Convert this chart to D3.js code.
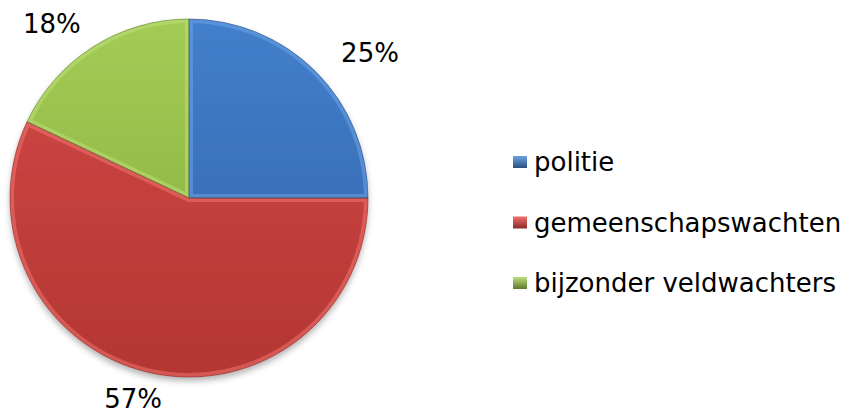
<!DOCTYPE html>
<html>
<head>
<meta charset="utf-8">
<script src="https://cdn.jsdelivr.net/npm/d3@7"></script>
<style>
  body { margin: 0; background: #fff; }
  svg { display: block; font-family: "DejaVu Sans", Verdana, sans-serif; }
</style>
</head>
<body>
<svg width="846" height="414"></svg>
<script>
const categories = ["politie", "gemeenschapswachten", "bijzonder veldwachters"];
const values = [25, 57, 18];
const labels = ["25%", "57%", "18%"];

const width = 846, height = 414;
const cx = 189, cy = 198, radius = 179;
// labels sit on an ellipse round the pie, like the office chart does
const labelRx = 256, labelRy = 206;

const colours = {
  politie: {top: "#437fcc", bottom: "#2f62a6", edge: "#6ea2e6", line: "#2a4f80"},
  gemeenschapswachten: {top: "#d24a47", bottom: "#b33633", edge: "#f07270", line: "#8a2a28"},
  "bijzonder veldwachters": {top: "#a3cc55", bottom: "#85aa3d", edge: "#bede7a", line: "#5f7a2c"}
};

const svg = d3.select("svg");
const defs = svg.append("defs");

// drop shadow under the pie
const shadow = defs.append("filter").attr("id", "shadow")
  .attr("x", "-10%").attr("y", "-10%").attr("width", "120%").attr("height", "125%");
shadow.append("feDropShadow")
  .attr("dx", 0).attr("dy", 4).attr("stdDeviation", 3)
  .attr("flood-color", "#000").attr("flood-opacity", 0.3);

categories.forEach((c, i) => {
  const g = defs.append("linearGradient").attr("id", "grad" + i)
    .attr("gradientUnits", "userSpaceOnUse")
    .attr("x1", 0).attr("y1", -radius).attr("x2", 0).attr("y2", radius);
  g.append("stop").attr("offset", "0%").attr("stop-color", colours[c].top);
  g.append("stop").attr("offset", "100%").attr("stop-color", colours[c].bottom);

  const lg = defs.append("linearGradient").attr("id", "leg" + i)
    .attr("x1", 0).attr("y1", 0).attr("x2", 0).attr("y2", 1);
  lg.append("stop").attr("offset", "0%").attr("stop-color", colours[c].edge);
  lg.append("stop").attr("offset", "100%").attr("stop-color", colours[c].line);
});

const pie = d3.pie().sort(null).value(d => d);
const arcs = pie(values);

const arc = d3.arc().innerRadius(0).outerRadius(radius);

arcs.forEach((a, i) => {
  defs.append("clipPath").attr("id", "clip" + i)
    .append("path").attr("d", arc(a));
});

const g = svg.append("g").attr("transform", `translate(${cx}, ${cy})`);

g.append("g").attr("filter", "url(#shadow)")
  .selectAll("path.slice")
  .data(arcs)
  .join("path")
  .attr("class", "slice")
  .attr("d", arc)
  .attr("fill", (d, i) => `url(#grad${i})`);

// bevel highlight along slice edges
g.selectAll("path.bevel")
  .data(arcs)
  .join("path")
  .attr("class", "bevel")
  .attr("d", arc)
  .attr("fill", "none")
  .attr("stroke", (d, i) => colours[categories[i]].edge)
  .attr("stroke-width", 8)
  .attr("stroke-opacity", 0.55)
  .attr("clip-path", (d, i) => `url(#clip${i})`);

g.selectAll("path.outline")
  .data(arcs)
  .join("path")
  .attr("class", "outline")
  .attr("d", arc)
  .attr("fill", "none")
  .attr("stroke", (d, i) => colours[categories[i]].line)
  .attr("stroke-width", 0.8)
  .attr("stroke-opacity", 0.7);

// percent labels
const mid = d => (d.startAngle + d.endAngle) / 2;
g.selectAll("text.pct")
  .data(arcs)
  .join("text")
  .attr("class", "pct")
  .attr("x", d => labelRx * Math.sin(mid(d)))
  .attr("y", d => -labelRy * Math.cos(mid(d)))
  .attr("text-anchor", "middle")
  .attr("dy", "0.36em")
  .attr("font-size", "26px")
  .attr("fill", "#000")
  .text((d, i) => labels[i]);

// legend
const legendY = d3.scalePoint().domain(categories).range([162, 283]);
const items = svg.append("g").selectAll("g")
  .data(categories)
  .join("g")
  .attr("transform", d => `translate(513, ${legendY(d)})`);

items.append("rect")
  .attr("x", 0).attr("y", -6)
  .attr("width", 14).attr("height", 12)
  .attr("fill", (d, i) => `url(#leg${i})`);

items.append("text")
  .attr("x", 21)
  .attr("y", 0)
  .attr("dy", "0.36em")
  .attr("font-size", "26px")
  .attr("fill", "#000")
  .text(d => d);
</script>
</body>
</html>
